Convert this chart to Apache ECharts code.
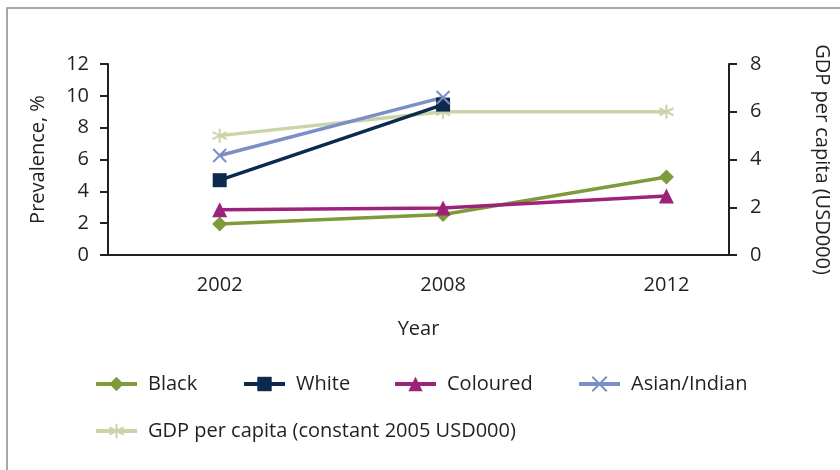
<!DOCTYPE html>
<html>
<head>
<meta charset="utf-8">
<script src="https://cdn.jsdelivr.net/npm/echarts@6/dist/echarts.min.js"></script>
<style>
html,body{margin:0;padding:0;background:#fff;}
#c{width:840px;height:470px;}
</style>
</head>
<body>
<div id="c"></div>
<script>
const years = ['2002', '2008', '2012'];
const black = [1.95, 2.55, 4.9];
const white = [4.7, 9.45, null];
const coloured = [2.85, 2.95, 3.7];
const asianIndian = [6.25, 9.9, null];
const gdp = [5.0, 6.0, 6.0];
const leftTicks = [0, 2, 4, 6, 8, 10, 12];
const rightTicks = [0, 2, 4, 6, 8];

const FONT = '"Open Sans", "Noto Sans", sans-serif';
const AX = '#231f20';
const COLORS = {
  'Black': '#7e9a3a',
  'White': '#0c2a4d',
  'Coloured': '#9c2379',
  'Asian/Indian': '#7b8ec5',
  'GDP per capita (constant 2005 USD000)': '#c9d4a9'
};
const X_PATH = 'path://M0,0L10,10M10,0L0,10';
const STAR_PATH = 'path://M5,0L5,10M0.7,2.5L9.3,7.5M0.7,7.5L9.3,2.5';

function pts(arr) {
  const out = [];
  arr.forEach((v, i) => { if (v !== null) out.push([i, v]); });
  return out;
}

function lineSeries(name, arr, symbol, size, yIdx, extra) {
  const c = COLORS[name];
  const s = {
    name: name,
    type: 'line',
    yAxisIndex: yIdx,
    data: pts(arr),
    symbol: symbol,
    symbolSize: size,
    showAllSymbol: true,
    lineStyle: { color: c, width: 3.5 },
    itemStyle: { color: c },
    emphasis: { disabled: true },
    animation: false,
    z: 3
  };
  return Object.assign(s, extra || {});
}

function legendAt(name, left, top) {
  return {
    data: [name],
    left: left,
    top: top,
    padding: 0,
    itemWidth: 41,
    itemHeight: 18,
    itemGap: 13,
    lineStyle: { width: 4 },
    textStyle: { fontFamily: FONT, fontSize: 20, color: AX, padding: [0, 0, 0, 6] },
    selectedMode: false
  };
}

const chart = echarts.init(document.getElementById('c'), null, { renderer: 'canvas' });
chart.setOption({
  backgroundColor: '#fff',
  animation: false,
  graphic: [{
    type: 'rect',
    shape: { x: 7, y: 8, width: 900, height: 500 },
    style: { fill: 'none', stroke: '#8c8c8c', lineWidth: 1.5 },
    silent: true,
    z: -10
  }],
  grid: { left: 108, right: 103, top: 64, bottom: 215, containLabel: false },
  legend: [
    legendAt('Black', 94, 374),
    legendAt('White', 242, 374),
    legendAt('Coloured', 393, 374),
    legendAt('Asian/Indian', 577, 374),
    legendAt('GDP per capita (constant 2005 USD000)', 94, 421)
  ],
  xAxis: {
    type: 'value',
    min: -0.5,
    max: 2.28,
    name: 'Year',
    nameLocation: 'middle',
    nameGap: 64,
    nameTextStyle: { fontFamily: FONT, fontSize: 20, color: AX },
    axisLine: { show: true, onZero: false, lineStyle: { color: AX, width: 2 } },
    axisTick: { show: false },
    splitLine: { show: false },
    axisLabel: {
      customValues: [0, 1, 2],
      formatter: v => years[Math.round(v)] || '',
      fontFamily: FONT, fontSize: 20, color: AX, margin: 20
    }
  },
  yAxis: [{
    type: 'value',
    min: 0, max: 12, interval: 2,
    name: 'Prevalence, %',
    nameLocation: 'middle',
    nameGap: 60,
    nameRotate: 90,
    nameTextStyle: { fontFamily: FONT, fontSize: 20, color: AX },
    axisLine: { show: true, onZero: false, lineStyle: { color: AX, width: 2 } },
    axisTick: { show: true, length: 8, lineStyle: { color: AX, width: 2 } },
    splitLine: { show: false },
    axisLabel: {
      formatter: v => leftTicks.includes(v) ? String(v) : '',
      fontFamily: FONT, fontSize: 20, color: AX, margin: 19
    }
  }, {
    type: 'value',
    position: 'right',
    min: 0, max: 8, interval: 2,
    name: 'GDP per capita (USD000)',
    nameLocation: 'middle',
    nameGap: 83,
    nameRotate: -90,
    nameTextStyle: { fontFamily: FONT, fontSize: 20, color: AX },
    axisLine: { show: true, onZero: false, lineStyle: { color: AX, width: 2 } },
    axisTick: { show: true, length: 8, lineStyle: { color: AX, width: 2 } },
    splitLine: { show: false },
    axisLabel: {
      formatter: v => rightTicks.includes(v) ? String(v) : '',
      fontFamily: FONT, fontSize: 20, color: AX, margin: 21
    }
  }],
  series: [
    lineSeries('GDP per capita (constant 2005 USD000)', gdp, STAR_PATH, 14, 1,
      { itemStyle: { color: COLORS['GDP per capita (constant 2005 USD000)'], borderColor: COLORS['GDP per capita (constant 2005 USD000)'], borderWidth: 2 }, z: 2 }),
    lineSeries('Black', black, 'diamond', 15, 0),
    lineSeries('Coloured', coloured, 'triangle', 15, 0),
    lineSeries('White', white, 'rect', 14, 0),
    lineSeries('Asian/Indian', asianIndian, X_PATH, 13, 0,
      { itemStyle: { color: COLORS['Asian/Indian'], borderColor: COLORS['Asian/Indian'], borderWidth: 2 } })
  ]
});
</script>
</body>
</html>
